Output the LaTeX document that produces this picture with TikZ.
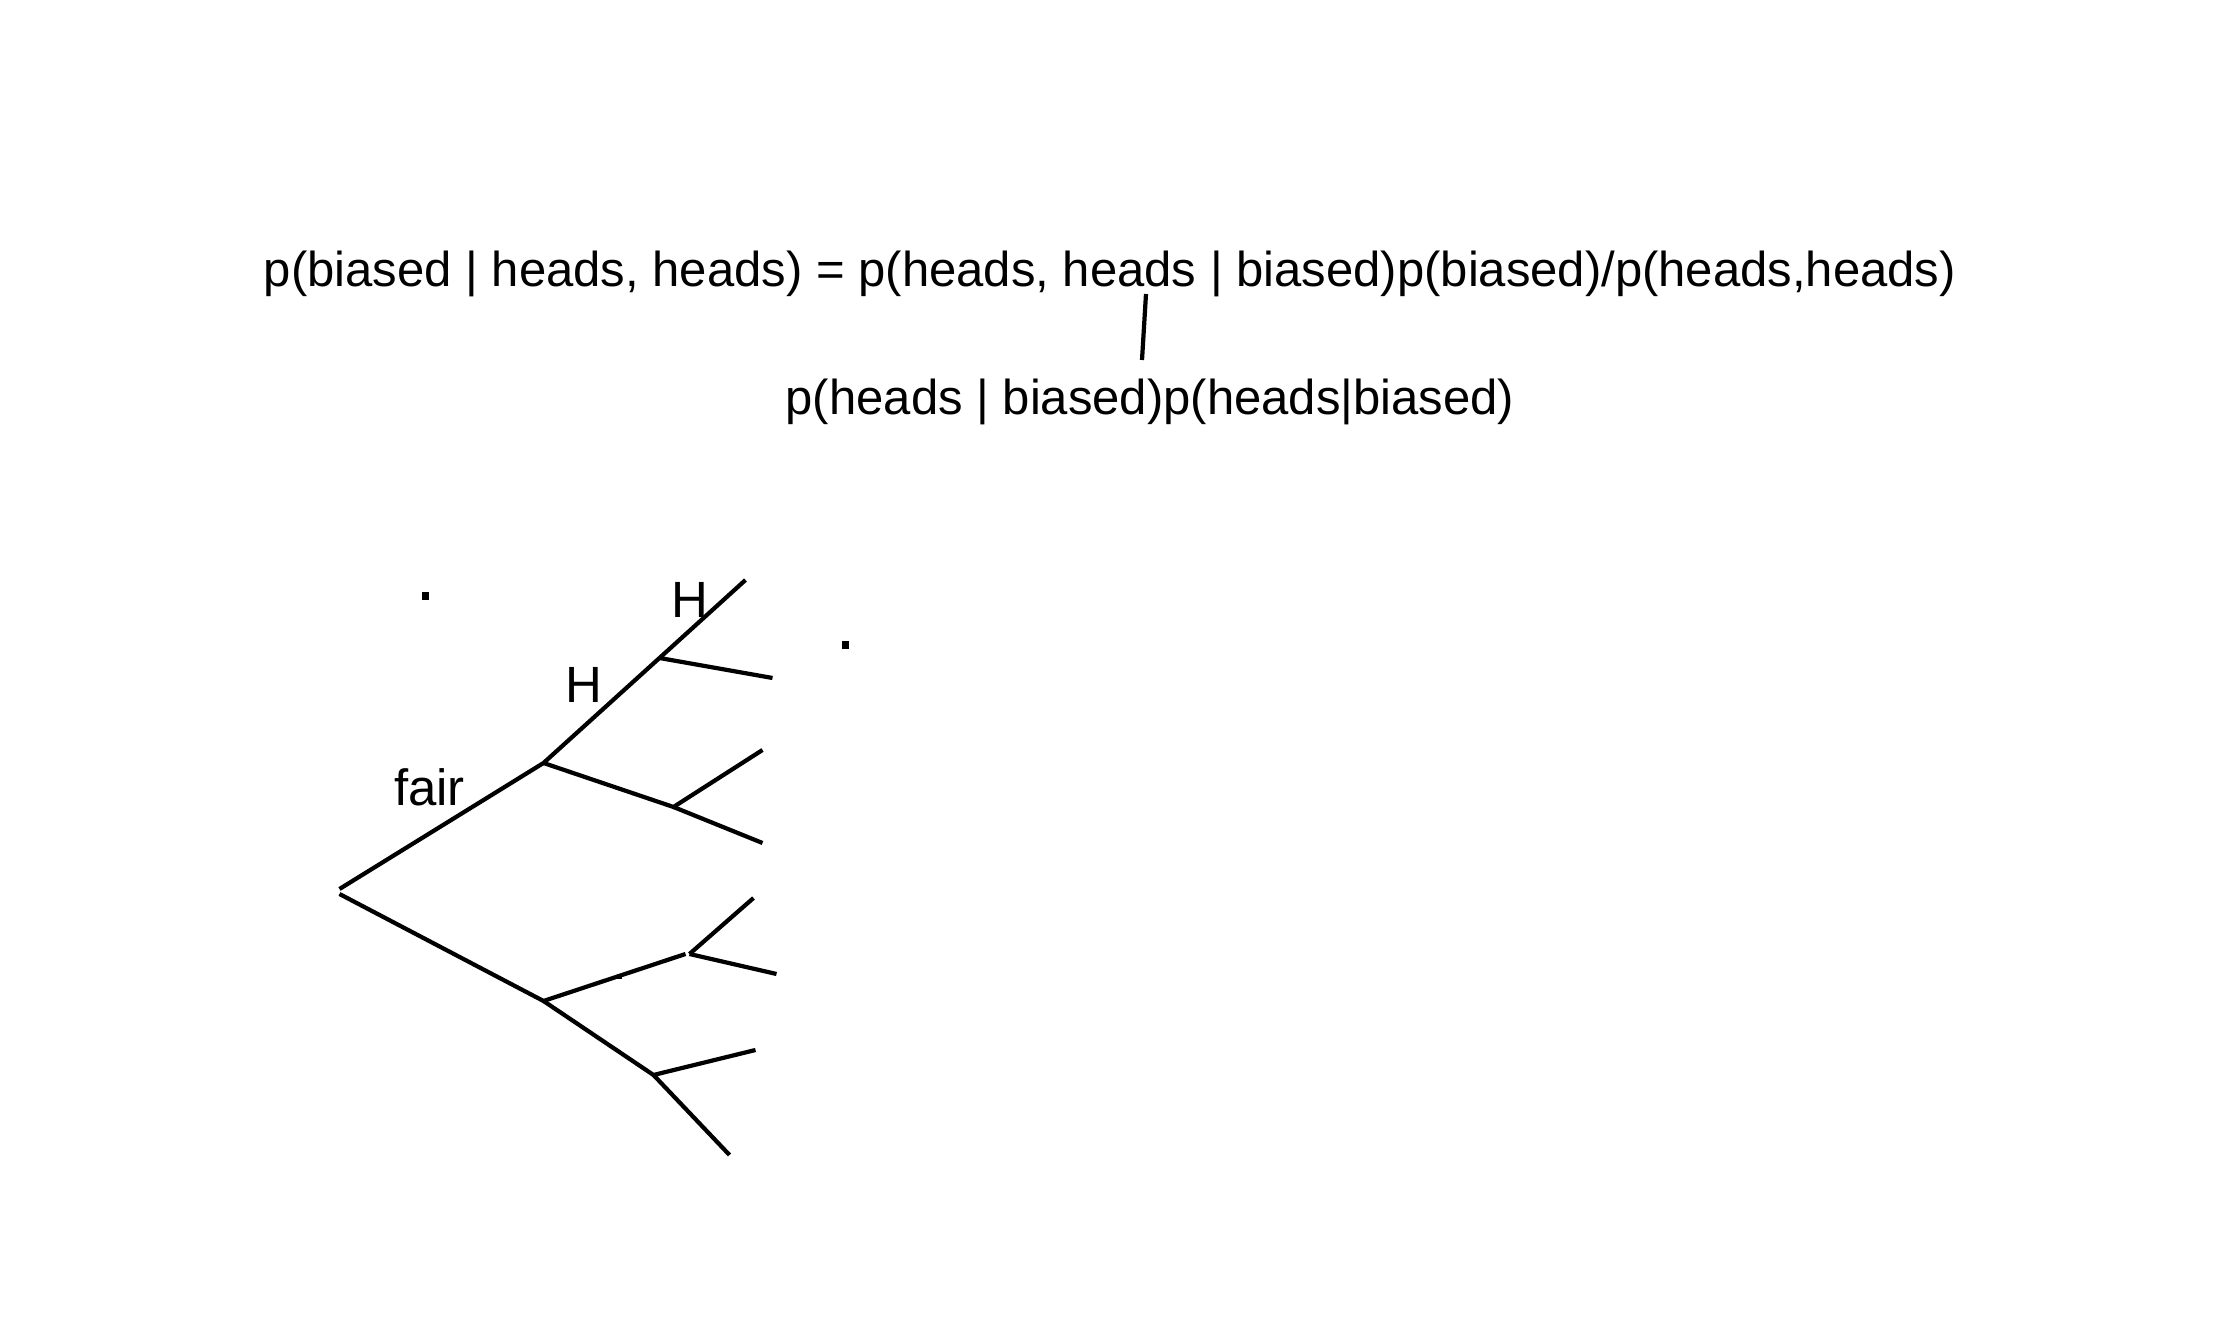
\documentclass[tikz,border=0pt]{standalone}
\usepackage{fontspec}
\setmainfont{Liberation Sans}
\usetikzlibrary{positioning}

\tikzset{
  txt/.style={inner sep=0pt, anchor=base, font=\fontsize{13.95}{17}\selectfont},
  lbl/.style={inner sep=0pt, font=\fontsize{14.5}{17}\selectfont},
  branch/.style={line width=1.2pt, line cap=butt},
  speck/.style={fill=black, minimum size=2pt, inner sep=0pt}
}

\begin{document}
\begin{tikzpicture}
  \useasboundingbox (0,0) rectangle (22.16,13.42);

  % formula
  \node[txt] (bayes) at (11.10,10.55) {p(biased | heads, heads) = p(heads, heads | biased)p(biased)/p(heads,heads)};
  \node[txt] (split) at (11.50,9.27) {p(heads | biased)p(heads|biased)};
  \coordinate (lnktop) at (11.46,10.48);
  \coordinate (lnkbot) at (11.42,9.82);
  \draw[branch] (lnktop) -- (lnkbot);

  \begin{scope}[xshift=-0.045cm, yshift=0.07cm]
  % stray specks
  \node[speck] (spk1) at (4.30,7.39) {};
  \node[speck] (spk2) at (8.50,6.90) {};

  % tree
  \coordinate (rootA) at (3.44,4.46);
  \coordinate (rootB) at (3.44,4.41);
  \coordinate (fair) at (5.48,5.72);
  \coordinate (fairH) at (6.64,6.77);
  \coordinate (fairT) at (6.78,5.28);
  \coordinate (bias) at (5.48,3.34);
  \coordinate (biasA) at (6.90,3.81);
  \coordinate (biasB) at (6.58,2.60);
  \coordinate (mark) at (6.24,3.61);

  \coordinate (leafHH) at (7.50,7.55);
  \coordinate (leafHT) at (7.77,6.57);
  \coordinate (leafTH) at (7.67,5.85);
  \coordinate (leafTT) at (7.67,4.92);
  \coordinate (leafA1) at (7.58,4.37);
  \coordinate (leafA2) at (7.81,3.61);
  \coordinate (leafB1) at (7.60,2.85);
  \coordinate (leafB2) at (7.34,1.80);

  \draw[branch] (rootA) -- (fair) -- (fairH) -- (leafHH);
  \draw[branch] (fairH) -- (leafHT);
  \draw[branch] (fair) -- (fairT) -- (leafTH);
  \draw[branch] (fairT) -- (leafTT);
  \draw[branch] (rootB) -- (bias) -- (biasA);
  \draw[branch] ([xshift=0.04cm]biasA) -- (leafA1);
  \draw[branch] ([xshift=0.04cm]biasA) -- (leafA2);
  \draw[branch] (bias) -- (biasB) -- (leafB1);
  \draw[branch] (biasB) -- (leafB2);
  \draw[branch] (mark) -- ++(0,-0.05);

  % labels
  \node[lbl] (lblH2) at (6.94,7.35) {H};
  \node[lbl] (lblH1) at (5.88,6.50) {H};
  \node[lbl] (lblfair) at (4.34,5.48) {fair};
  \end{scope}
\end{tikzpicture}
\end{document}
